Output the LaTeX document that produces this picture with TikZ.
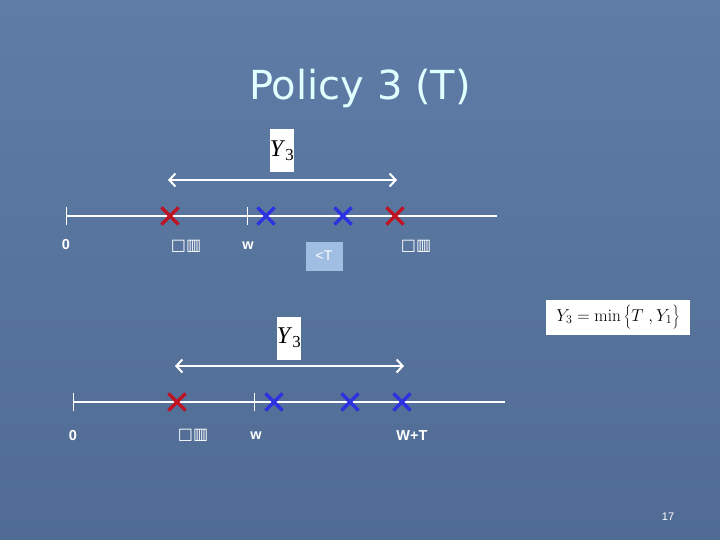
\documentclass[tikz,border=0pt]{standalone}
\usepackage[no-math]{fontspec}
\setmainfont{Liberation Sans}
\newfontfamily\titlefont{DejaVu Sans}
\newfontfamily\boxfont{DejaVu Sans}
\newfontfamily\timesfont{Liberation Serif}
\usetikzlibrary{shapes.misc,arrows.meta}
\definecolor{slidetop}{RGB}{94,124,166}
\definecolor{slidebot}{RGB}{80,108,148}
\definecolor{titlecol}{RGB}{224,255,255}
\definecolor{failred}{RGB}{190,20,35}
\definecolor{okblue}{RGB}{45,50,225}
\definecolor{tbox}{RGB}{160,190,225}
\begin{document}
\begin{tikzpicture}[x=1pt, y=-1pt,
    hitx/.style={cross out, draw=#1, line width=3.2pt, minimum size=14pt, inner sep=0pt},
    lbl/.style={text=white, font=\fontsize{14.5}{16}\selectfont\bfseries},
    tofu/.style={text=white, font=\boxfont\fontsize{16}{18}\selectfont},
    axis/.style={white, line width=2.5pt},
    tick/.style={white, line width=0.8pt},
    span/.style={white, line width=2pt, {Straight Barb[length=6pt,width=13pt]}-{Straight Barb[length=6pt,width=13pt]}},
    ybox/.style={fill=white, inner sep=0pt, minimum width=24pt, minimum height=43pt, font=\timesfont\fontsize{24}{26}\selectfont}]
  % slide background
  \shade[top color=slidetop, bottom color=slidebot] (0,0) rectangle (720,540);
  \useasboundingbox (0,0) rectangle (720,540);
  \node[text=titlecol, font=\titlefont\fontsize{40}{44}\selectfont] (title) at (360,88) {Policy 3 (T)};

  % upper time line: Y3 ends at failure before w+T
  \coordinate (a0) at (66,216);
  \coordinate (a1) at (497,216);
  \coordinate (aw) at (247,216);
  \draw[axis] (a0) -- (a1);
  \draw[tick] ([yshift=-9pt]a0) -- ([yshift=9pt]a0);
  \draw[tick] ([yshift=-9pt]aw) -- ([yshift=9pt]aw);
  \node[hitx=failred] (ax1) at (170,216) {};
  \node[hitx=okblue] (ax2) at (266,216) {};
  \node[hitx=okblue] (ax3) at (343,216) {};
  \node[hitx=failred] (ax4) at (395,216) {};
  \node[lbl] (a0lbl) at (66,245) {0};
  \node[tofu] (af1) at (186,246) {□▥};
  \node[lbl] (awlbl) at (248,246) {w};
  \node[fill=tbox, text=white, minimum width=37pt, minimum height=29pt, font=\fontsize{14}{16}\selectfont] (alt) at (324,256) {<T};
  \node[tofu] (af2) at (416,246) {□▥};
  \coordinate (as) at (168,180);
  \coordinate (ae) at (397,180);
  \draw[span] (as) -- (ae);
  \node[ybox] (ay) at (282,151) {\textit{Y}\textsubscript{3}};

  % lower time line: Y3 ends at w+T
  \coordinate (b0) at (73,402);
  \coordinate (b1) at (505,402);
  \coordinate (bw) at (254,402);
  \draw[axis] (b0) -- (b1);
  \draw[tick] ([yshift=-9pt]b0) -- ([yshift=9pt]b0);
  \draw[tick] ([yshift=-9pt]bw) -- ([yshift=9pt]bw);
  \node[hitx=failred] (bx1) at (177,402) {};
  \node[hitx=okblue] (bx2) at (274,402) {};
  \node[hitx=okblue] (bx3) at (350,402) {};
  \node[hitx=okblue] (bx4) at (402,402) {};
  \node[lbl] (b0lbl) at (73,436) {0};
  \node[tofu] (bf1) at (193,435) {□▥};
  \node[lbl] (bwlbl) at (256,436) {w};
  \node[lbl] (bwt) at (412,436) {W+T};
  \coordinate (bs) at (175,366);
  \coordinate (be) at (404,366);
  \draw[span] (bs) -- (be);
  \node[ybox] (by) at (289,338) {\textit{Y}\textsubscript{3}};

  % definition box
  \node[fill=white, minimum width=144pt, minimum height=35pt, inner sep=0pt, font=\fontsize{17.5}{19}\selectfont] (def) at (618,317) {$Y_3=\min\bigg\{T\ ,Y_1\bigg\}$};
  \node[text=white, font=\fontsize{11}{13}\selectfont] (page) at (668,517) {17};
\end{tikzpicture}
\end{document}
